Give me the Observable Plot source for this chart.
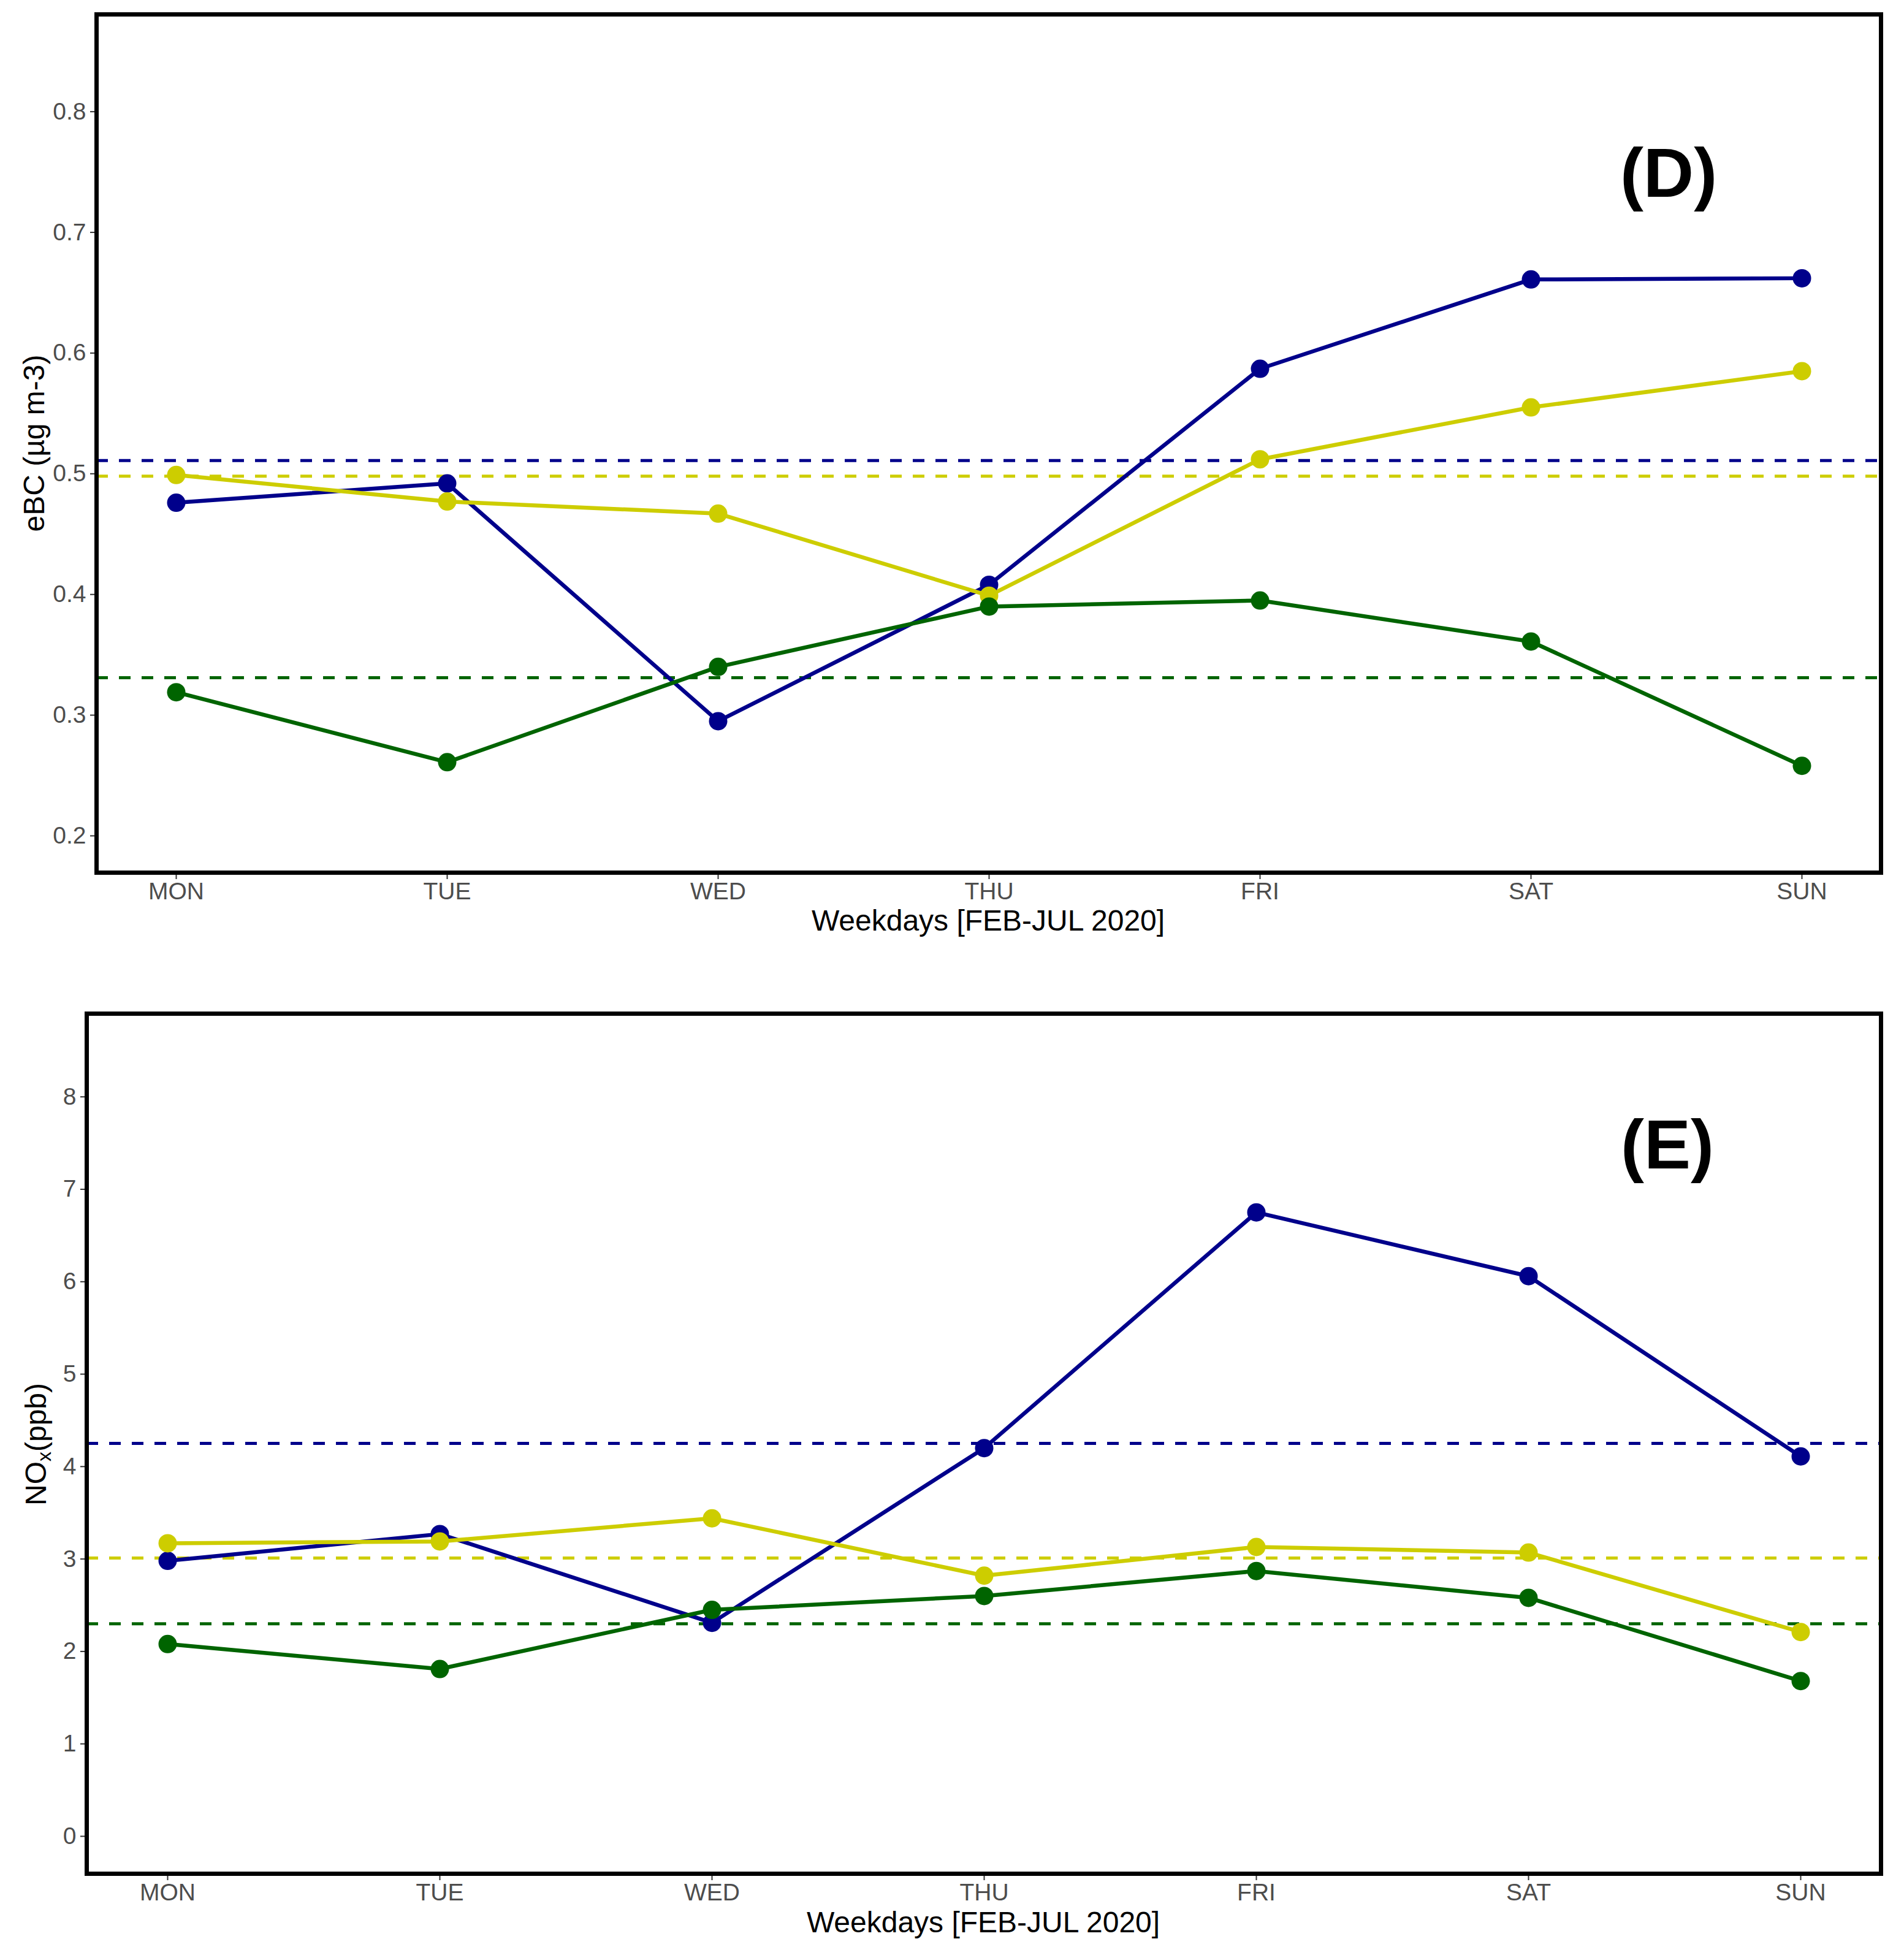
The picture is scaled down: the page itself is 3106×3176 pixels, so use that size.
<!DOCTYPE html>
<html><head><meta charset="utf-8">
<script src="https://cdn.jsdelivr.net/npm/d3@7"></script>
<script src="https://cdn.jsdelivr.net/npm/@observablehq/plot@0.6"></script>
<style>
html,body{margin:0;padding:0;background:#fff;}
#chart{position:relative;width:3106px;height:3176px;background:#fff;}
#chart svg{position:absolute;left:0;display:block;}
</style></head><body><div id="chart"></div>
<script>
const days = ["MON","TUE","WED","THU","FRI","SAT","SUN"];
const series = ["Series 1","Series 2","Series 3"];
const seriesColors = ["#00008B","#CDCD00","#006400"];

const eBC_s1 = [0.476,0.492,0.295,0.408,0.587,0.661,0.662];
const eBC_s2 = [0.499,0.477,0.467,0.399,0.512,0.555,0.585];
const eBC_s3 = [0.319,0.261,0.340,0.390,0.395,0.361,0.258];
const eBC_means = [0.511,0.498,0.331];
const eBC_ticks = [0.2,0.3,0.4,0.5,0.6,0.7,0.8];

const NOx_s1 = [2.98,3.27,2.31,4.20,6.75,6.06,4.11];
const NOx_s2 = [3.17,3.19,3.44,2.82,3.13,3.07,2.21];
const NOx_s3 = [2.08,1.81,2.45,2.60,2.87,2.58,1.68];
const NOx_means = [4.25,3.01,2.30];
const NOx_ticks = [0,1,2,3,4,5,6,7,8];

const FONT = "'Liberation Sans', Arial, Helvetica, sans-serif";

function toRows(arrs){
  const rows = [];
  arrs.forEach((vals,i)=>vals.forEach((v,j)=>rows.push({series:series[i], day:days[j], value:v})));
  return rows;
}

function panel({rows, means, ticks, yDomain, marginLeft, marginTop, marginBottom, fmt}) {
  const meanRows = means.map((v,i)=>({series:series[i], value:v}));
  return Plot.plot({
    width: 3106, height: 1588,
    marginLeft, marginRight: 38, marginTop, marginBottom,
    style: {fontFamily: FONT, background: "white"},
    x: {type: "point", domain: days, padding: 0.29},
    y: {domain: yDomain},
    color: {domain: series, range: seriesColors},
    marks: [
      Plot.ruleY(meanRows, {y: "value", stroke: "series", strokeWidth: 5, strokeDasharray: "19,18"}),
      Plot.line(rows, {x: "day", y: "value", stroke: "series", strokeWidth: 6.5}),
      Plot.dot(rows, {x: "day", y: "value", fill: "series", r: 15}),
      Plot.axisX({tickSize: 11, tickPadding: 5, fontSize: 39, fill: "#4D4D4D", stroke: "#333333", strokeWidth: 2, label: null}),
      Plot.axisY({ticks, tickSize: 10, tickPadding: 7, fontSize: 39, fill: "#4D4D4D", stroke: "#333333", strokeWidth: 2, label: null, tickFormat: fmt}),
      Plot.frame({stroke: "black", strokeWidth: 7})
    ]
  });
}

const chart = document.getElementById("chart");

const topSvg = panel({
  rows: toRows([eBC_s1, eBC_s2, eBC_s3]), means: eBC_means, ticks: eBC_ticks,
  yDomain: [0.1695, 0.8806], marginLeft: 157, marginTop: 23, marginBottom: 165,
  fmt: d3.format(".1f")
});
topSvg.style.top = "0px";
chart.appendChild(topSvg);

const botSvg = panel({
  rows: toRows([NOx_s1, NOx_s2, NOx_s3]), means: NOx_means, ticks: NOx_ticks,
  yDomain: [-0.405, 8.90], marginLeft: 141, marginTop: 65, marginBottom: 120,
  fmt: d3.format("d")
});
botSvg.style.top = "1588px";
chart.appendChild(botSvg);

function addText(svg, {x, y, text, size, weight = "normal", rotate = 0}) {
  const t = d3.select(svg).append("text")
    .attr("transform", `translate(${x},${y}) rotate(${rotate})`)
    .attr("text-anchor", "middle")
    .attr("font-family", FONT)
    .attr("font-size", size)
    .attr("font-weight", weight)
    .attr("fill", "black");
  if (text) t.text(text);
  return t;
}

// top panel titles
addText(topSvg, {x: 1612, y: 1518, text: "Weekdays [FEB-JUL 2020]", size: 48});
addText(topSvg, {x: 72, y: 723, text: "eBC (\u00B5g m-3)", size: 48, rotate: -90});
addText(topSvg, {x: 2722, y: 321, text: "(D)", size: 114, weight: "bold"});

// bottom panel titles
addText(botSvg, {x: 1604, y: 1564, text: "Weekdays [FEB-JUL 2020]", size: 48});
const ny = addText(botSvg, {x: 75, y: 768, text: null, size: 48, rotate: -90});
ny.append("tspan").text("NO");
ny.append("tspan").attr("font-size", 32).attr("dy", 8).text("x");
ny.append("tspan").attr("dy", -8).text("(ppb)");
addText(botSvg, {x: 2720, y: 318, text: "(E)", size: 114, weight: "bold"});
</script>
</body></html>
